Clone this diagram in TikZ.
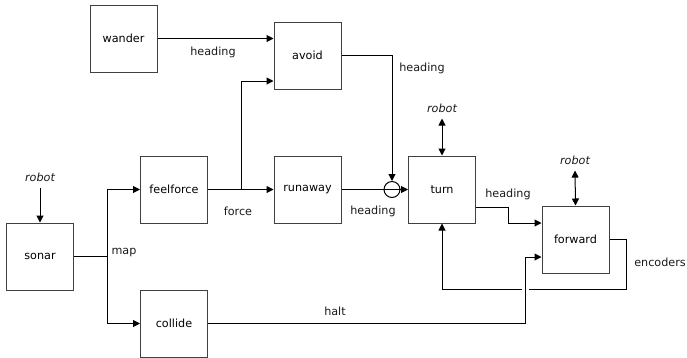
\documentclass[tikz,border=0pt]{standalone}
\usepackage{fontspec}
\setmainfont{DejaVu Sans}
\usetikzlibrary{arrows.meta}
\begin{document}
\begin{tikzpicture}[x=1pt,y=-1pt,
  font=\fontsize{11.2}{13}\selectfont,
  blk/.style={draw=black!75, line width=1pt, minimum width=67pt, minimum height=67pt, inner sep=0pt},
  wire/.style={draw=black, line width=1pt},
  arr/.style={wire, -{Triangle[length=7pt,width=7pt]}},
  both/.style={wire, {Triangle[length=7pt,width=7pt]}-{Triangle[length=7pt,width=7pt]}},
  lbl/.style={inner sep=0pt, text=black!90},
  rob/.style={inner sep=0pt, font=\fontsize{11.2}{13}\selectfont\itshape, text=black!90}]
\useasboundingbox (0,0) rectangle (687,357);

% behaviour boxes
\node[blk] (wander)    at (123.5, 38.5) {wander};
\node[blk] (avoid)     at (307.5, 55.5) {avoid};
\node[blk] (sonar)     at (40, 256.5)   {sonar};
\node[blk] (feelforce) at (174, 189.5)  {feelforce};
\node[blk] (runaway)   at (307.5, 189.5){runaway};
\node[blk] (collide)   at (174, 323.5)  {collide};
\node[blk] (turn)      at (442, 189.5)  {turn};
\node[blk] (forward)   at (575.5, 239.5){forward};
\node[draw=black, line width=1pt, circle, minimum size=16pt, inner sep=0pt] (sum) at (392, 189.5) {};

% robot interfaces
\node[rob] (rob1) at (40, 177) {robot};
\node[rob] (rob2) at (442, 108) {robot};
\node[rob] (rob3) at (575, 160) {robot};
\draw[arr] ([yshift=-6pt]rob1.south) -- (sonar.north);
\draw[both] ([yshift=-6pt]rob2.south) -- (turn.north);
\draw[both] ([yshift=-6pt]rob3.south) -- (forward.north);

% sonar map distribution
\coordinate (mapx) at (107, 256.5);
\draw[wire] (sonar.east) -- (mapx);
\draw[arr] (mapx) |- (feelforce.west);
\draw[arr] (mapx) |- (collide.west);

% wander and force into avoid
\draw[arr] (wander.east) -- (avoid.west |- wander.east);
\coordinate (fsplit) at (241, 189.5);
\draw[arr] (feelforce.east) -- (runaway.west);
\draw[arr] (fsplit) |- ([yshift=-25.5pt]avoid.west);

% headings merged at the junction into turn
\draw[arr] (avoid.east) -| (sum.north);
\draw[arr] (runaway.east) -- (turn.west);

% turn to forward
\coordinate (hbend) at (508, 207);
\draw[arr] ([yshift=-17.5pt]turn.east) -- (hbend) |- ([yshift=16.5pt]forward.west);

% encoders feedback, broken where the halt line crosses
\coordinate (fbR) at (626, 289);
\coordinate (gapR) at (529, 289);
\coordinate (gapL) at (522, 289);
\draw[wire] (forward.east) -| (fbR) -- (gapR);
\draw[arr] (gapL) -| (turn.south);

% halt
\coordinate (haltx) at (525, 323.5);
\draw[arr] (collide.east) -- (haltx) |- ([yshift=-17.5pt]forward.west);

% labels
\node[lbl] (l1) at (213, 52)  {heading};
\node[lbl] (l2) at (124, 253) {map};
\node[lbl] (l3) at (238, 211) {force};
\node[lbl] (l4) at (373, 211) {heading};
\node[lbl] (l5) at (422, 68)  {heading};
\node[lbl] (l6) at (508, 194) {heading};
\node[lbl] (l7) at (660, 262) {encoders};
\node[lbl] (l8) at (335, 311) {halt};
\end{tikzpicture}
\end{document}
